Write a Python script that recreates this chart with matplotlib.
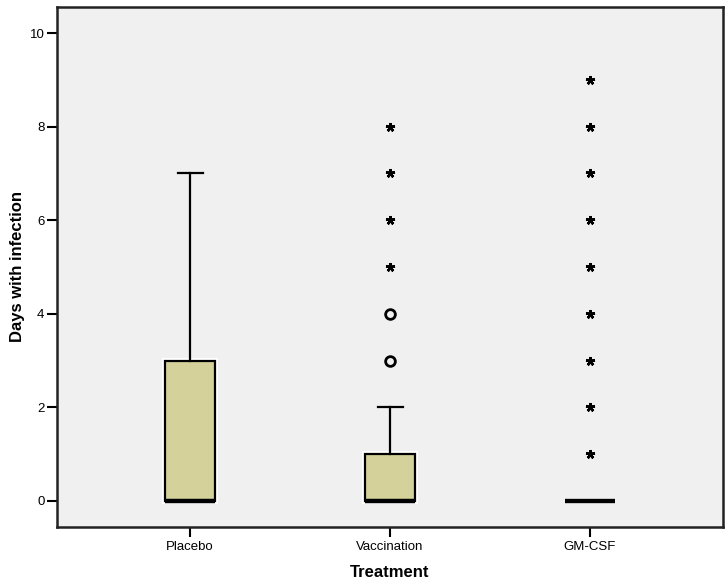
import matplotlib
matplotlib.use("Agg")
import matplotlib.pyplot as plt
import matplotlib.patheffects as pe

plt.rcParams['font.family'] = ['Liberation Sans', 'DejaVu Sans']

categories = ["Placebo", "Vaccination", "GM-CSF"]
q1 = [0, 0, 0]
median = [0, 0, 0]
q3 = [3, 1, 0]
whislo = [0, 0, 0]
whishi = [7, 2, 0]
# outliers (circles) and extremes (stars)
outliers = [[], [3, 4], []]
extremes = [[], [5, 6, 7, 8], [1, 2, 3, 4, 5, 6, 7, 8, 9]]
yticks = [0, 2, 4, 6, 8, 10]

fig = plt.figure(figsize=(7.28, 5.85), dpi=100)
ax = fig.add_axes([57/728, 58/585, 666/728, 520/585])
ax.set_facecolor('#f0f0f0')

stats = []
for i, c in enumerate(categories):
    stats.append(dict(label=c, q1=q1[i], med=median[i], q3=q3[i],
                      whislo=whislo[i], whishi=whishi[i], fliers=[]))

positions = [1, 2, 3]
res = ax.bxp(stats, positions=positions, widths=0.25, patch_artist=True,
             showfliers=False, capwidths=0.125,
             boxprops=dict(facecolor='#d5d19b', edgecolor='black', linewidth=1.6),
             whiskerprops=dict(color='black', linewidth=1.6),
             capprops=dict(color='black', linewidth=1.6),
             medianprops=dict(color='black', linewidth=3.2, solid_capstyle='butt'))
for b in res['boxes']:
    b.set_path_effects([pe.Stroke(linewidth=4.5, foreground='white'), pe.Normal()])
for m in res['medians']:
    m.set_zorder(5)

for i, p in enumerate(positions):
    if outliers[i]:
        ax.plot([p]*len(outliers[i]), outliers[i], linestyle='none', marker='o',
                markersize=7, markerfacecolor='none', markeredgecolor='black',
                markeredgewidth=2, zorder=6)
    if extremes[i]:
        ax.plot([p]*len(extremes[i]), extremes[i], linestyle='none', marker=(5, 2, 0),
                markersize=6.5, color='black', markeredgewidth=1.8, zorder=6)

ax.set_xlim(0.335, 3.665)
ax.set_ylim(-0.556, 10.556)
ax.set_yticks(yticks)
ax.set_yticklabels([str(t) for t in yticks])
ax.set_xticks(positions)
ax.set_xticklabels(categories)
ax.tick_params(axis='both', direction='out', length=7, width=1.5, labelsize=9.5, colors='black')
ax.tick_params(axis='y', pad=2)
ax.tick_params(axis='x', pad=3)
for s in ax.spines.values():
    s.set_linewidth(1.8)
    s.set_color('#222222')

ax.set_xlabel('Treatment', fontsize=12, fontweight='bold', labelpad=9)
ax.set_ylabel('Days with infection', fontsize=12, fontweight='bold', labelpad=3)

fig.savefig('out.png', dpi=100, facecolor='white')
